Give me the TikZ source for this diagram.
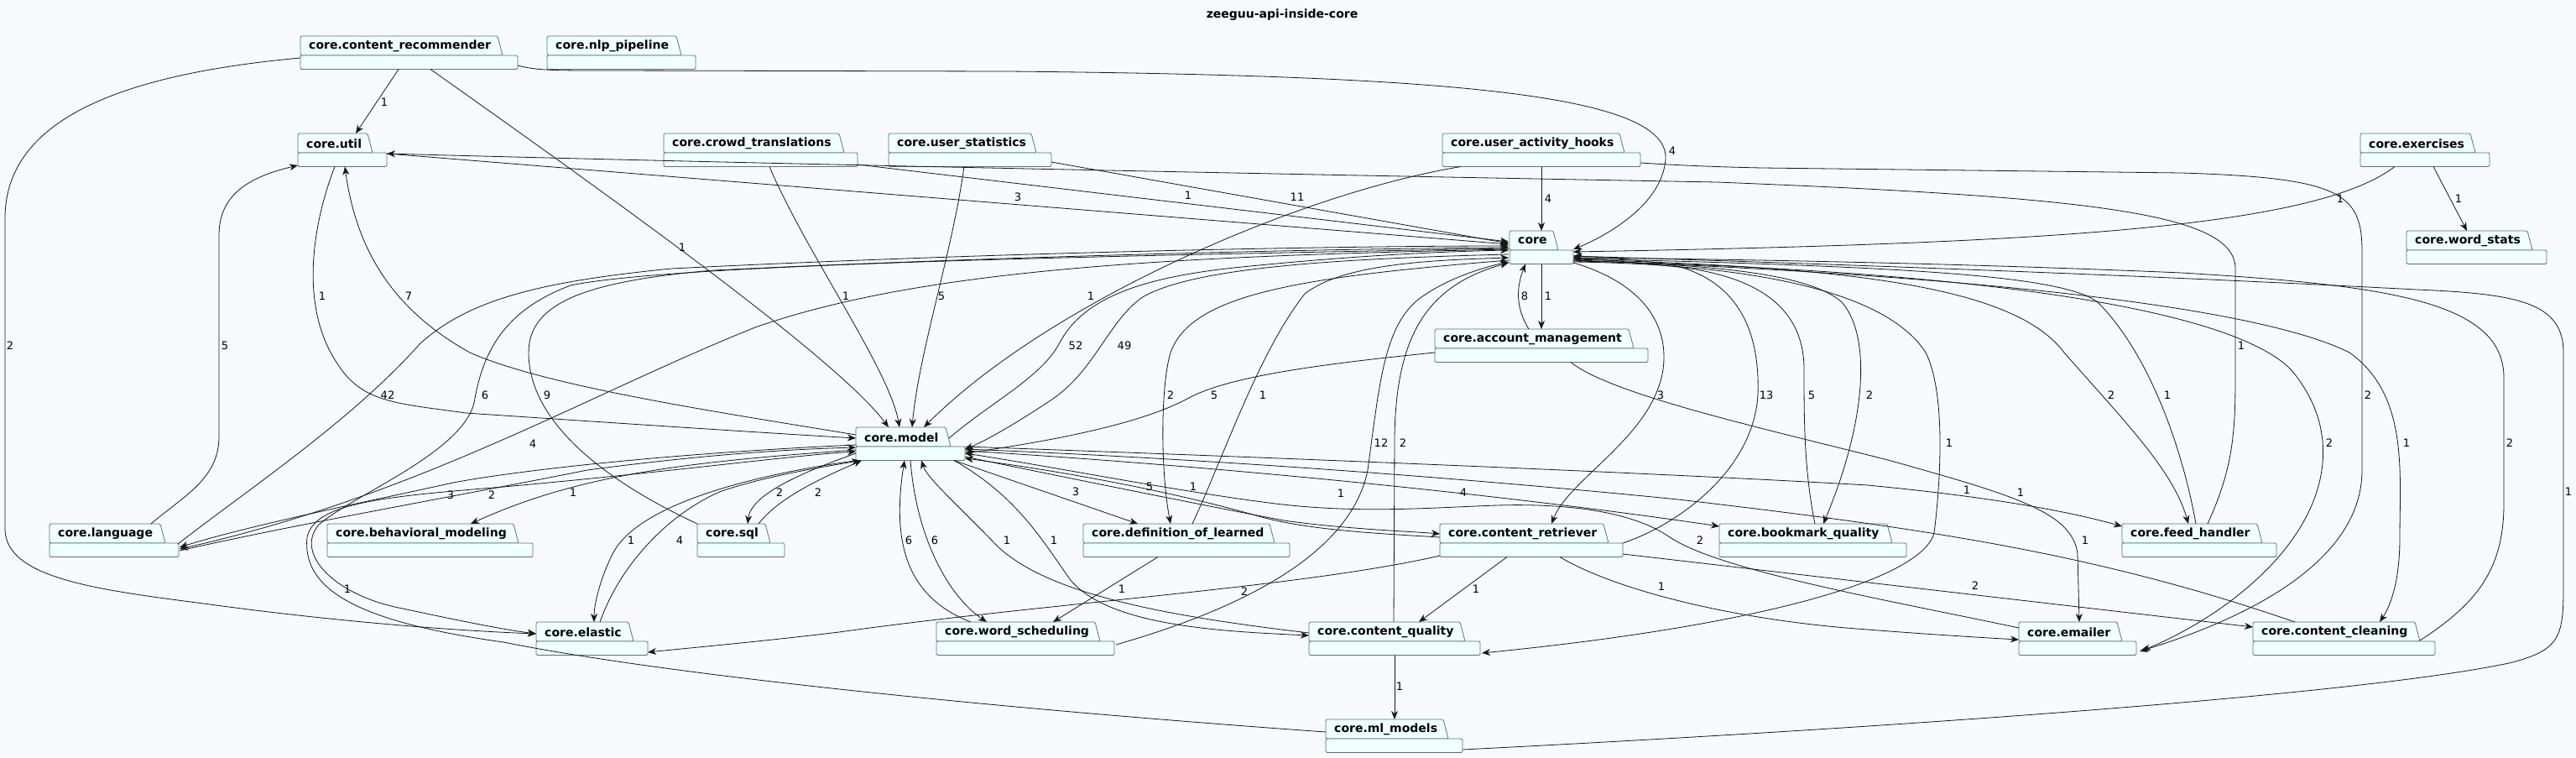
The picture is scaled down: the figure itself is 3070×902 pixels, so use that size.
\documentclass[tikz,border=0pt]{standalone}
\usepackage{fontspec}
\setmainfont{DejaVu Sans}
\usetikzlibrary{arrows.meta,calc}
\definecolor{bgc}{RGB}{247,249,253}
\definecolor{pkgfill}{RGB}{240,255,255}
\definecolor{pkgline}{RGB}{88,118,118}
\definecolor{edgec}{RGB}{24,24,24}
\newcommand{\pkgbox}[6]{%
  \pgfmathsetmacro{\pkw}{#4-#2}%
  \pgfmathsetmacro{\pkcx}{(#2+#4)/2}%
  \pgfmathsetmacro{\pkcy}{#5+19.75}%
  \path[pkgshape] (#2,#5) -- (#3-6,#5) -- (#3,#5+23) -- (#2,#5+23) -- cycle;%
  \path[pkgshape] (#2,#5+23) rectangle (#4,#5+39.5);%
  \node[pkgtext,name=#1t] at (#2+10,#5+12) {#6};%
  \node[pkghold,minimum width=\pkw pt,name=#1] at (\pkcx,\pkcy) {};%
}
\begin{document}
\begin{tikzpicture}[x=1pt,y=-1pt,
  pkgshape/.style={draw=pkgline,fill=pkgfill,line width=0.8pt,rounded corners=1.5pt},
  pkgtext/.style={anchor=west,inner sep=0,font=\bfseries\fontsize{14}{16}\selectfont},
  pkghold/.style={inner sep=0,outer sep=0,minimum height=39.5pt,draw=none},
  dep/.style={draw=edgec,line width=0.8pt,-{Stealth[length=10pt,width=8pt,inset=3pt]}},
  lab/.style={inner sep=0,font=\fontsize{13}{15}\selectfont},
  ttl/.style={inner sep=0,font=\bfseries\fontsize{14}{16}\selectfont}]
\fill[bgc] (0,0) rectangle (3070,902);
\useasboundingbox (0,0) rectangle (3070,902);
\node[ttl] (title) at (1528,18) {zeeguu-api-inside-core};

\pkgbox{CR}{358}{599}{617}{43}{core.content\_recommender}
\pkgbox{NLP}{652}{812}{829}{43}{core.nlp\_pipeline}
\pkgbox{UT}{355}{444}{461}{159}{core.util}
\pkgbox{CT}{791}{1006}{1022}{159}{core.crowd\_translations}
\pkgbox{US}{1059}{1235}{1253}{159}{core.user\_statistics}
\pkgbox{UAH}{1719}{1936}{1955}{159}{core.user\_activity\_hooks}
\pkgbox{EX}{2813}{2950}{2967}{159}{core.exercises}
\pkgbox{CO}{1799}{1857}{1875}{275}{core}
\pkgbox{WS}{2868}{3018}{3035}{275}{core.word\_stats}
\pkgbox{AM}{1710}{1947}{1964}{392}{core.account\_management}
\pkgbox{MO}{1020}{1133}{1150}{509}{core.model}
\pkgbox{LA}{59}{197}{213}{624}{core.language}
\pkgbox{BM}{390}{618}{635}{624}{core.behavioral\_modeling}
\pkgbox{SQ}{831}{918}{935}{624}{core.sql}
\pkgbox{DL}{1291}{1519}{1537}{624}{core.definition\_of\_learned}
\pkgbox{CRT}{1716}{1917}{1934}{624}{core.content\_retriever}
\pkgbox{BQ}{2049}{2255}{2272}{624}{core.bookmark\_quality}
\pkgbox{FH}{2529}{2696}{2713}{624}{core.feed\_handler}
\pkgbox{EL}{639}{755}{772}{741}{core.elastic}
\pkgbox{WSC}{1116}{1311}{1328}{741}{core.word\_scheduling}
\pkgbox{CQ}{1560}{1746}{1764}{741}{core.content\_quality}
\pkgbox{EM}{2406}{2529}{2546}{741}{core.emailer}
\pkgbox{CC}{2685}{2884}{2902}{741}{core.content\_cleaning}
\pkgbox{ML}{1580}{1726}{1743}{857}{core.ml\_models}

% content_recommender
\draw[dep] ($(CR.north west)+(117,39.5)$) -- ($(UT.north west)+(69,0)$);
\node[lab] (L1) at (458,122) {1};
\draw[dep] ($(CR.north west)+(155,39.5)$) .. controls (750,250) and (1000,430) .. ($(MO.north west)+(39,0)$);
\node[lab] (L2) at (813,295) {1};
\draw[dep] ($(CR.north west)+(0,26)$) .. controls (150,88) and (6,140) .. (6,260) -- (6,630) .. controls (6,690) and (120,703) .. (250,720) .. controls (420,743) and (560,752) .. ($(EL.north west)+(0,14)$);
\node[lab] (L3) at (12,412) {2};
\draw[dep] ($(CR.north west)+(259,35)$) .. controls (640,84) and (660,84) .. (720,84) -- (1200,85) .. controls (1750,90) and (1990,115) .. (1985,190) .. controls (1980,250) and (1900,287) .. ($(CO.north west)+(76,22)$);
\node[lab] (L4) at (1993,180) {4};

% top row to core / model
\draw[dep] ($(CT.north west)+(126,39.5)$) .. controls (960,300) and (1060,440) .. ($(MO.north west)+(52,0)$);
\node[lab] (L5) at (1008,353) {1};
\draw[dep] ($(CT.north west)+(231,37)$) -- ($(CO.north west)+(-1,13)$);
\node[lab] (L6) at (1416,233) {1};
\draw[dep] ($(UT.north west)+(106,24)$) -- ($(CO.north west)+(-1,16)$);
\node[lab] (L7) at (1213,235) {3};
\draw[dep] ($(US.north west)+(194,34)$) -- ($(CO.north west)+(-1,15)$);
\node[lab] (L8) at (1546,235) {11};
\draw[dep] ($(US.north west)+(90,39.5)$) .. controls (1135,300) and (1095,420) .. ($(MO.north west)+(67,0)$);
\node[lab] (L9) at (1122,353) {5};
\draw[dep] ($(UAH.north west)+(118,39.5)$) -- ($(CO.north west)+(38,0)$);
\node[lab] (L10) at (1845,237) {4};
\draw[dep] ($(UAH.north west)+(22,39.5)$) .. controls (1550,230) and (1250,360) .. ($(MO.north west)+(81,0)$);
\node[lab] (L11) at (1300,353) {1};
\draw[dep] ($(EX.north west)+(41,39.5)$) .. controls (2760,270) and (2450,290) .. ($(CO.north west)+(76,25)$);
\node[lab] (L12) at (2789,237) {1};
\draw[dep] ($(EX.north west)+(87,39.5)$) -- ($(WS.north west)+(72,0)$);
\node[lab] (L13) at (2930,237) {1};
\draw[dep] ($(FH.north west)+(102,0)$) .. controls (2660,560) and (2664,520) .. (2664,450) -- (2664,320) .. controls (2664,255) and (2500,235) .. (2046,217) .. controls (1500,207) and (900,195) .. ($(UT.north west)+(106,24)$);
\node[lab] (L14) at (2671,412) {1};
\draw[dep] ($(UAH.north west)+(236,35)$) .. controls (2000,197) and (2050,199) .. (2100,200) -- (2600,206) .. controls (2790,212) and (2815,230) .. (2815,300) -- (2815,560) .. controls (2815,680) and (2650,745) .. ($(EM.north west)+(144,35)$);
\node[lab] (L15) at (2822,471) {2};

% core <-> account management
\draw[dep] ($(AM.north west)+(112,0)$) .. controls (1805,365) and (1808,340) .. ($(CO.north west)+(19,39.5)$);
\node[lab] (L16) at (1817,353) {8};
\draw[dep] ($(CO.north west)+(38,39.5)$) -- ($(AM.north west)+(127,0)$);
\node[lab] (L17) at (1845,353) {1};

% model <-> core and others in middle
\draw[dep] ($(MO.north west)+(111,13)$) .. controls (1180,480) and (1240,450) .. (1262,410) .. controls (1290,355) and (1360,330) .. (1480,318) .. controls (1600,306) and (1700,300) .. ($(CO.north west)+(-1,23)$);
\node[lab] (L18) at (1282,412) {52};
\draw[dep] ($(CO.north west)+(-1,28)$) .. controls (1600,308) and (1420,318) .. (1360,355) .. controls (1320,385) and (1305,440) .. (1255,475) .. controls (1210,505) and (1175,525) .. ($(MO.north west)+(130,26)$);
\node[lab] (L19) at (1340,412) {49};
\draw[dep] ($(CO.north west)+(-1,35)$) .. controls (1550,330) and (1420,350) .. (1395,420) .. controls (1383,460) and (1383,560) .. ($(DL.north west)+(104,0)$);
\node[lab] (L20) at (1395,471) {2};
\draw[dep] ($(AM.north west)+(0,28)$) .. controls (1560,435) and (1460,450) .. (1415,475) .. controls (1350,510) and (1220,530) .. ($(MO.north west)+(130,31)$);
\node[lab] (L21) at (1447,471) {5};
\draw[dep] ($(DL.north west)+(130,0)$) .. controls (1460,540) and (1500,420) .. (1555,350) .. controls (1600,315) and (1700,310) .. ($(CO.north west)+(-1,32)$);
\node[lab] (L22) at (1505,471) {1};
\draw[dep] ($(WSC.north west)+(214,27)$) .. controls (1480,725) and (1610,660) .. (1630,560) .. controls (1645,450) and (1650,380) .. (1700,350) .. controls (1730,330) and (1770,318) .. ($(CO.north west)+(-1,37)$);
\node[lab] (L23) at (1646,528) {12};
\draw[dep] ($(CQ.north west)+(101,0)$) -- (1662,520) .. controls (1664,400) and (1700,340) .. ($(CO.north west)+(-1,38)$);
\node[lab] (L24) at (1672,528) {2};

% core right side
\draw[dep] ($(CO.north west)+(76,38)$) .. controls (1950,335) and (1990,380) .. (1982,440) .. controls (1970,520) and (1870,570) .. ($(CRT.north west)+(133,0)$);
\node[lab] (L25) at (1979,471) {3};
\draw[dep] ($(CRT.north west)+(218,23)$) .. controls (2000,625) and (2090,560) .. (2095,470) .. controls (2098,380) and (2060,330) .. (1990,315) .. controls (1940,308) and (1900,306) .. ($(CO.north west)+(76,30)$);
\node[lab] (L26) at (2105,471) {13};
\draw[dep] ($(BQ.north west)+(114,0)$) .. controls (2150,560) and (2150,500) .. (2150,440) .. controls (2150,370) and (2100,330) .. (2000,318) .. controls (1940,312) and (1900,308) .. ($(CO.north west)+(76,32)$);
\node[lab] (L27) at (2159,471) {5};
\draw[dep] ($(CO.north west)+(76,35)$) .. controls (2000,315) and (2150,320) .. (2195,360) .. controls (2230,400) and (2225,500) .. ($(BQ.north west)+(124,0)$);
\node[lab] (L28) at (2228,471) {2};
\draw[dep] ($(CO.north west)+(76,37)$) .. controls (2100,315) and (2250,350) .. (2295,420) .. controls (2320,470) and (2312,580) .. (2305,635) .. controls (2290,690) and (2100,745) .. ($(CQ.north west)+(206,37)$);
\node[lab] (L29) at (2323,528) {1};
\draw[dep] ($(CO.north west)+(76,34)$) .. controls (2200,318) and (2400,340) .. (2460,420) .. controls (2530,500) and (2590,560) .. ($(FH.north west)+(79,0)$);
\node[lab] (L30) at (2516,471) {2};
\draw[dep] ($(FH.north west)+(88,0)$) .. controls (2600,530) and (2560,420) .. (2500,360) .. controls (2460,330) and (2300,318) .. ($(CO.north west)+(76,33)$);
\node[lab] (L31) at (2583,471) {1};
\draw[dep] ($(CO.north west)+(76,36)$) .. controls (2300,320) and (2650,360) .. (2730,440) .. controls (2790,510) and (2780,600) .. (2700,680) .. controls (2650,730) and (2590,760) .. ($(EM.north west)+(147,34)$);
\node[lab] (L32) at (2776,528) {2};
\draw[dep] ($(CO.north west)+(76,35)$) .. controls (2400,330) and (2700,370) .. (2800,420) .. controls (2870,470) and (2860,560) .. (2860,640) .. controls (2860,690) and (2850,720) .. ($(CC.north west)+(151,0)$);
\node[lab] (L33) at (2868,528) {1};
\draw[dep] ($(CC.north west)+(199,22)$) .. controls (2950,720) and (2984,680) .. (2984,600) -- (2984,450) .. controls (2984,360) and (2850,340) .. (2600,325) .. controls (2300,312) and (2000,308) .. ($(CO.north west)+(76,32)$);
\node[lab] (L34) at (2991,528) {2};
\draw[dep] ($(ML.north west)+(163,36)$) .. controls (2200,870) and (2800,830) .. (2990,790) .. controls (3050,775) and (3055,760) .. (3055,700) -- (3055,420) .. controls (3055,360) and (3000,350) .. (2880,345) .. controls (2500,325) and (2100,312) .. ($(CO.north west)+(76,30)$);
\node[lab] (L35) at (3061,586) {1};

% model to the right
\draw[dep] ($(MO.north west)+(130,23)$) .. controls (1600,548) and (2000,565) .. (2226,578) .. controls (2350,590) and (2450,605) .. ($(FH.north west)+(0,3)$);
\node[lab] (L36) at (2344,584) {1};
\draw[dep] ($(AM.north west)+(162,39.5)$) .. controls (1920,470) and (2100,510) .. (2250,548) .. controls (2400,590) and (2470,610) .. (2476,660) -- ($(EM.north west)+(72,0)$);
\node[lab] (L37) at (2408,587) {1};
\node[lab] (L37b) at (2485,644) {1};
\draw[dep] ($(CC.north west)+(50,0)$) .. controls (2500,660) and (2300,630) .. (2000,595) .. controls (1700,565) and (1400,545) .. ($(MO.north west)+(130,26)$);
\node[lab] (L38) at (1744,587) {4};
\draw[dep] ($(EM.north west)+(0,7)$) .. controls (2250,715) and (2050,680) .. (1990,640) .. controls (1940,605) and (1850,600) .. (1784,602) .. controls (1700,605) and (1620,612) .. (1520,600) .. controls (1400,585) and (1250,555) .. ($(MO.north west)+(130,31)$);
\node[lab] (L39) at (2026,644) {2};
\draw[dep] ($(MO.north west)+(130,28)$) .. controls (1450,555) and (1800,590) .. ($(BQ.north west)+(0,3)$);
\node[lab] (L40) at (1598,588) {1};
\draw[dep] ($(MO.north west)+(130,35)$) .. controls (1300,575) and (1450,605) .. (1530,620) .. controls (1600,630) and (1680,633) .. ($(CRT.north west)+(0,12)$);
\node[lab] (L41) at (1370,580) {5};
\draw[dep] ($(CRT.north west)+(0,16)$) .. controls (1650,636) and (1560,632) .. (1500,615) .. controls (1420,592) and (1300,566) .. ($(MO.north west)+(130,37)$);
\node[lab] (L42) at (1422,580) {1};
\draw[dep] ($(MO.north west)+(117,39.5)$) -- ($(DL.north west)+(65,0)$);
\node[lab] (L43) at (1282,586) {3};

% model below
\draw[dep] ($(WSC.north west)+(41,0)$) .. controls (1090,715) and (1060,660) .. ($(MO.north west)+(58,39.5)$);
\node[lab] (L44) at (1083,644) {6};
\draw[dep] ($(MO.north west)+(65,39.5)$) .. controls (1092,640) and (1130,710) .. ($(WSC.north west)+(60,0)$);
\node[lab] (L45) at (1114,644) {6};
\draw[dep] ($(CQ.north west)+(0,13)$) .. controls (1400,735) and (1250,710) .. (1188,650) .. controls (1140,600) and (1105,570) .. ($(MO.north west)+(78,39.5)$);
\node[lab] (L46) at (1200,644) {1};
\draw[dep] ($(MO.north west)+(117,39.5)$) .. controls (1210,590) and (1240,640) .. (1275,690) .. controls (1320,745) and (1450,752) .. ($(CQ.north west)+(0,16)$);
\node[lab] (L47) at (1256,644) {1};
\draw[dep] ($(DL.north west)+(89,39.5)$) -- ($(WSC.north west)+(139,0)$);
\node[lab] (L48) at (1337,702) {1};
\draw[dep] ($(CRT.north west)+(0,38)$) .. controls (1550,700) and (1250,718) .. (1000,753) .. controls (900,765) and (820,772) .. ($(EL.north west)+(133,36)$);
\node[lab] (L49) at (1483,705) {2};
\draw[dep] ($(CRT.north west)+(80,39.5)$) -- ($(CQ.north west)+(131,0)$);
\node[lab] (L50) at (1759,702) {1};
\draw[dep] ($(CRT.north west)+(143,39.5)$) .. controls (1920,700) and (2050,735) .. (2200,748) .. controls (2300,756) and (2370,760) .. ($(EM.north west)+(0,21)$);
\node[lab] (L51) at (1980,699) {1};
\draw[dep] ($(CRT.north west)+(218,36)$) .. controls (2150,685) and (2450,720) .. ($(CC.north west)+(0,6)$);
\node[lab] (L52) at (2354,698) {2};
\draw[dep] ($(CQ.north west)+(102,39.5)$) -- ($(ML.north west)+(82,0)$);
\node[lab] (L53) at (1668,818) {1};

% model to the left
\draw[dep] ($(MO.north west)+(0,27)$) .. controls (820,550) and (690,565) .. ($(BM.north west)+(171,0)$);
\node[lab] (L54) at (683,587) {1};
\draw[dep] ($(MO.north west)+(0,21)$) .. controls (800,540) and (620,560) .. (540,575) .. controls (450,595) and (300,625) .. ($(LA.north west)+(155,28)$);
\node[lab] (L55) at (537,590) {3};
\draw[dep] ($(LA.north west)+(155,32)$) .. controls (350,625) and (550,590) .. (700,560) .. controls (850,540) and (950,535) .. ($(MO.north west)+(0,24)$);
\node[lab] (L56) at (586,590) {2};
\draw[dep] ($(CO.north west)+(-1,22)$) .. controls (1400,305) and (1100,320) .. (900,390) .. controls (700,470) and (500,590) .. ($(LA.north west)+(155,30)$);
\node[lab] (L57) at (635,529) {4};
\draw[dep] ($(LA.north west)+(153,24)$) .. controls (300,580) and (420,500) .. (500,410) .. controls (560,355) and (650,335) .. (800,320) .. controls (1200,300) and (1600,293) .. ($(CO.north west)+(-1,18)$);
\node[lab] (L58) at (462,471) {42};
\draw[dep] ($(SQ.north west)+(0,0)$) .. controls (715,570) and (630,500) .. (630,420) .. controls (630,360) and (700,335) .. (850,322) .. controls (1200,305) and (1600,296) .. ($(CO.north west)+(-1,20)$);
\node[lab] (L59) at (652,471) {9};
\draw[dep] ($(CO.north west)+(-1,21)$) .. controls (1300,305) and (800,315) .. (680,340) .. controls (600,370) and (575,420) .. (565,480) .. controls (550,540) and (420,590) .. (380,625) .. controls (350,660) and (400,710) .. (480,725) .. controls (550,740) and (600,750) .. ($(EL.north west)+(0,14)$);
\node[lab] (L60) at (578,471) {6};
\draw[dep] ($(ML.north west)+(0,15)$) .. controls (1200,845) and (800,805) .. (600,765) .. controls (420,740) and (360,700) .. (366,640) .. controls (375,600) and (450,592) .. (600,580) .. controls (800,562) and (950,542) .. ($(MO.north west)+(0,29)$);
\node[lab] (L61) at (414,702) {1};
\draw[dep] ($(MO.north west)+(2,39.5)$) .. controls (900,565) and (760,600) .. (730,660) .. controls (715,690) and (708,720) .. ($(EL.north west)+(69,0)$);
\node[lab] (L62) at (752,644) {1};
\draw[dep] ($(EL.north west)+(76,0)$) .. controls (740,670) and (800,610) .. (860,585) .. controls (920,565) and (990,555) .. ($(MO.north west)+(5,39.5)$);
\node[lab] (L63) at (810,644) {4};
\draw[dep] ($(MO.north west)+(0,31)$) .. controls (950,565) and (895,590) .. ($(SQ.north west)+(60,0)$);
\node[lab] (L64) at (929,587) {2};
\draw[dep] ($(SQ.north west)+(73,0)$) .. controls (930,590) and (990,565) .. ($(MO.north west)+(7,39.5)$);
\node[lab] (L65) at (975,587) {2};
\draw[dep] ($(UT.north west)+(44,39.5)$) .. controls (375,260) and (355,360) .. (400,430) .. controls (430,480) and (470,480) .. (555,492) .. controls (750,505) and (900,515) .. ($(MO.north west)+(0,13)$);
\node[lab] (L66) at (384,353) {1};
\draw[dep] ($(MO.north west)+(0,9)$) .. controls (850,490) and (650,460) .. (560,420) .. controls (470,370) and (425,300) .. ($(UT.north west)+(56,39.5)$);
\node[lab] (L67) at (487,353) {7};
\draw[dep] ($(LA.north west)+(121,0)$) .. controls (220,590) and (261,570) .. (261,520) -- (261,280) .. controls (261,230) and (300,210) .. ($(UT.north west)+(0,38)$);
\node[lab] (L68) at (268,412) {5};
\end{tikzpicture}
\end{document}
